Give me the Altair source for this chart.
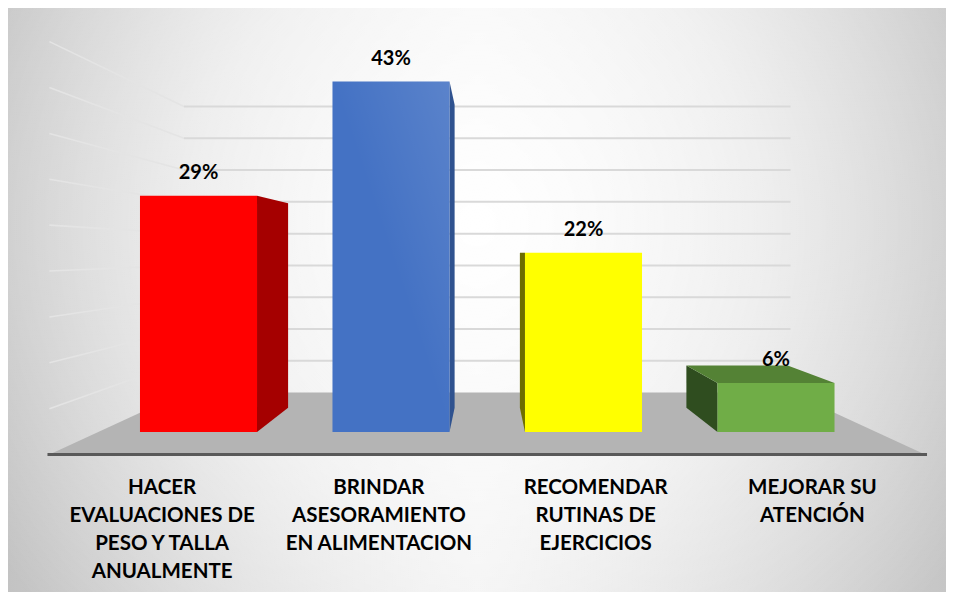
import altair as alt
import pandas as pd

# ---------------- data ----------------
categories = [
    "HACER\nEVALUACIONES DE\nPESO Y TALLA\nANUALMENTE",
    "BRINDAR\nASESORAMIENTO\nEN ALIMENTACION",
    "RECOMENDAR\nRUTINAS DE\nEJERCICIOS",
    "MEJORAR SU\nATENCIÓN",
]
percentages = [29, 43, 22, 6]
value_labels = ["29%", "43%", "22%", "6%"]
grid_values = [5, 10, 15, 20, 25, 30, 35, 40, 45]
title_text = "Distribución de estudiantes según percepción del Seguro Social Universitario"

# ---------------- styles ----------------
front_colors = ["#ff0000", "#4472c4", "#ffff00", "#70ad47"]
side_colors = ["#a50000", "#2f528f", "#6e6e00", "#2f4d1f"]
top_colors = ["#c00000", "#3a62a8", "#bfbf00", "#548235"]
FONT = "Lato"

W, H = 938, 584
X0_PX, X_STEP = 190.5, 192.5
Y0_PX, Y_STEP = 424.0, 8.15
x_dom = [-X0_PX / X_STEP, (W - X0_PX) / X_STEP]
y_dom = [(Y0_PX - H) / Y_STEP, Y0_PX / Y_STEP]

VP_I, VP_V = 1.5, 22.0          # vanishing point (data units)
S_BAR_BACK = 0.865               # depth of bar backs
S_WALL = 0.78                    # depth of back wall
S_FLOOR_FRONT = 1.126            # depth of floor front edge
HALF = 0.304                     # half bar width
WALL_L, WALL_R = -0.52, 3.52


def proj(i, v, s):
    return VP_I + (i - VP_I) * s, VP_V + (v - VP_V) * s


xs = alt.Scale(domain=x_dom, nice=False, zero=False)
ys = alt.Scale(domain=y_dom, nice=False, zero=False)
X = lambda f: alt.X(f, scale=xs, axis=None)
Y = lambda f: alt.Y(f, scale=ys, axis=None)

# ---------------- derived tables ----------------
bars = pd.DataFrame({
    "cat": categories,
    "idx": list(range(len(categories))),
    "v": percentages,
    "lab": value_labels,
    "front": front_colors,
})
bars["x0"] = bars["idx"] - HALF
bars["x1"] = bars["idx"] + HALF
bars["zero"] = 0.0
bars["lx"] = [proj(i, 0, S_FLOOR_FRONT)[0] for i in bars["idx"]]
bars["ly"] = [proj(i, 0, S_FLOOR_FRONT)[1] for i in bars["idx"]]

side_rows, top_rows = [], []
for k, v in enumerate(percentages):
    left, right = k - HALF, k + HALF
    edge = right if right < VP_I else (left if left > VP_I else None)
    if edge is not None:
        bx, bt = proj(edge, v, S_BAR_BACK)
        _, bb = proj(edge, 0, S_BAR_BACK)
        side_rows.append({"face": k, "x": edge, "y": float(v), "y2": 0.0})
        side_rows.append({"face": k, "x": bx, "y": bt, "y2": bb})
    if v < VP_V:
        blx, bty = proj(left, v, S_BAR_BACK)
        brx, _ = proj(right, v, S_BAR_BACK)
        top_rows.append({"face": k, "y": bty, "x": blx, "x2": brx})
        top_rows.append({"face": k, "y": float(v), "x": left, "x2": right})
sides = pd.DataFrame(side_rows)
tops = pd.DataFrame(top_rows)

fb_l, fb_y = proj(WALL_L, 0, S_WALL)
fb_r, _ = proj(WALL_R, 0, S_WALL)
ff_l, ff_y = proj(WALL_L, 0, S_FLOOR_FRONT)
ff_r, _ = proj(WALL_R, 0, S_FLOOR_FRONT)
floor = pd.DataFrame({"y": [fb_y, ff_y], "x": [fb_l, ff_l], "x2": [fb_r, ff_r]})
floor_edge = pd.DataFrame({"x": [ff_l - 0.01], "x2": [ff_r + 0.01], "y": [ff_y]})

grid_back = pd.DataFrame({
    "g": grid_values,
    "x": [fb_l] * len(grid_values),
    "x2": [fb_r] * len(grid_values),
    "y": [proj(0, g, S_WALL)[1] for g in grid_values],
})
wall_rows = []
for g in grid_values:
    a = proj(WALL_L, g, S_WALL)
    b = proj(WALL_L, g, S_FLOOR_FRONT)
    wall_rows.append({"g": g, "pt": 1, "x": a[0], "y": a[1]})
    wall_rows.append({"g": g, "pt": 0, "x": b[0], "y": b[1]})
grid_left = pd.DataFrame(wall_rows)

one = pd.DataFrame({"t": [title_text]})

# ---------------- layers ----------------
title = alt.Chart(one).mark_text(
    font="Liberation Sans", fontWeight="bold", fontSize=26, align="left", baseline="alphabetic"
).encode(x=alt.value(-156), y=alt.value(4), text="t:N", color=alt.value("#000000"))

bg = alt.Chart(one).mark_rect(
    color=alt.Gradient(
        gradient="linear", x1=0, y1=0, x2=1, y2=0,
        stops=[alt.GradientStop(color="#c3c3c3", offset=0),
               alt.GradientStop(color="#eeeeee", offset=0.5),
               alt.GradientStop(color="#c6c6c6", offset=1)],
    )
).encode(x=alt.value(0), x2=alt.value(W), y=alt.value(0), y2=alt.value(H))

bg2 = alt.Chart(one).mark_rect(
    color=alt.Gradient(
        gradient="radial", x1=0.5, y1=0.42, x2=0.5, y2=0.42, r1=0, r2=0.62,
        stops=[alt.GradientStop(color="rgba(255,255,255,1)", offset=0),
               alt.GradientStop(color="rgba(255,255,255,0.6)", offset=0.5),
               alt.GradientStop(color="rgba(255,255,255,0)", offset=1)],
    )
).encode(x=alt.value(0), x2=alt.value(W), y=alt.value(0), y2=alt.value(H))

left_lines = alt.Chart(grid_left).mark_line(strokeWidth=1.6, color="#e4e4e4").encode(
    x=X("x:Q"), y=Y("y:Q"), detail="g:N", order="pt:Q",
)

back_lines = alt.Chart(grid_back).mark_rule(strokeWidth=2, color="#d9d9d9").encode(
    x=X("x:Q"), x2="x2:Q", y=Y("y:Q"),
)

floor_layer = alt.Chart(floor).mark_area(orient="horizontal", color="#b4b4b4").encode(
    y=Y("y:Q"), x=X("x:Q"), x2="x2:Q",
)

floor_line = alt.Chart(floor_edge).mark_rule(strokeWidth=3, color="#595959").encode(
    x=X("x:Q"), x2="x2:Q", y=Y("y:Q"),
)

side_layers = [
    alt.Chart(sides).transform_filter(f"datum.face == {k}").mark_area(color=side_colors[k]).encode(
        x=X("x:Q"), y=Y("y:Q"), y2="y2:Q",
    )
    for k in sorted(sides["face"].unique())
]

top_layers = [
    alt.Chart(tops).transform_filter(f"datum.face == {k}").mark_area(
        orient="horizontal", color=top_colors[k]
    ).encode(y=Y("y:Q"), x=X("x:Q"), x2="x2:Q")
    for k in sorted(tops["face"].unique())
]

front_layer = alt.Chart(bars).mark_rect().encode(
    x=X("x0:Q"), x2="x1:Q", y=Y("v:Q"), y2="zero:Q",
    color=alt.Color("front:N", scale=None),
)

blue_shine = alt.Chart(bars).transform_filter("datum.idx == 1").mark_rect(
    color=alt.Gradient(
        gradient="linear", x1=0, y1=1, x2=1, y2=0,
        stops=[alt.GradientStop(color="rgba(255,255,255,0)", offset=0),
               alt.GradientStop(color="rgba(255,255,255,0)", offset=0.5),
               alt.GradientStop(color="rgba(255,255,255,0.12)", offset=1)],
    )
).encode(x=X("x0:Q"), x2="x1:Q", y=Y("v:Q"), y2="zero:Q")

value_text = alt.Chart(bars).mark_text(
    font=FONT, fontWeight="bold", fontSize=20, baseline="alphabetic", dy=-17, color="#000000"
).encode(x=X("idx:Q"), y=Y("v:Q"), text="lab:N")

cat_text = alt.Chart(bars).mark_text(
    font=FONT, fontWeight="bold", fontSize=20.5, baseline="alphabetic", dy=39,
    lineBreak="\n", lineHeight=28.3, align="center", color="#000000"
).encode(x=X("lx:Q"), y=Y("ly:Q"), text="cat:N")

chart = alt.layer(
    title, bg, bg2, left_lines, back_lines, floor_layer, floor_line,
    *side_layers, *top_layers, front_layer, blue_shine, value_text, cat_text,
).properties(
    width=W, height=H, padding=0, autosize=alt.AutoSizeParams(type="none"),
    background="#ffffff",
).configure_view(stroke=None)

chart.save("out.html", embed_options={"renderer": "svg", "actions": False})
